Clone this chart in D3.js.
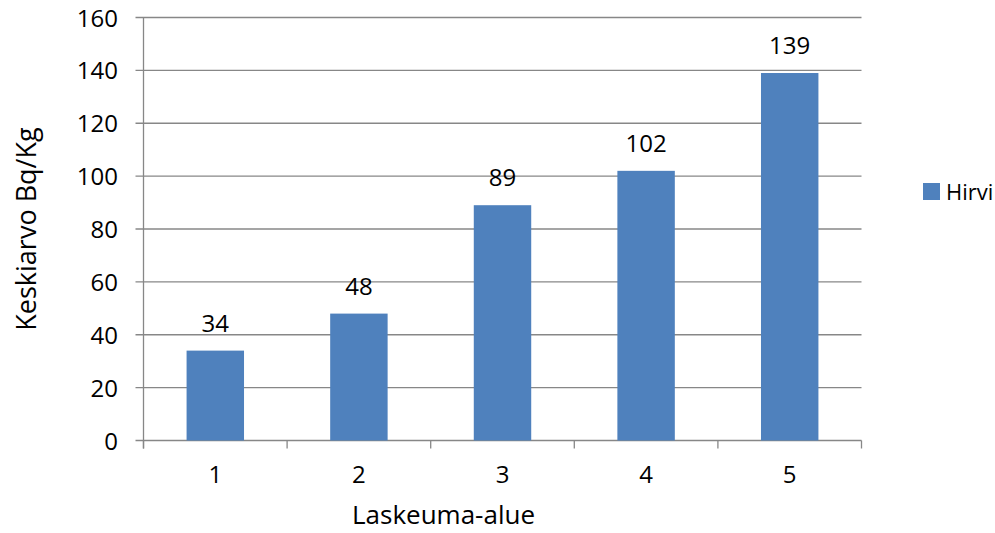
<!DOCTYPE html>
<html><head><meta charset="utf-8">
<script src="https://cdn.jsdelivr.net/npm/d3@7"></script>
<style>body{margin:0;background:#fff}svg text{font-family:"Open Sans",sans-serif;fill:#000}</style>
</head><body>
<svg id="c" width="995" height="533"></svg>
<script>
const categories = ["1","2","3","4","5"];
const values = [34,48,89,102,139];
const yTicks = [0,20,40,60,80,100,120,140,160];
const seriesName = "Hirvi";
const xTitle = "Laskeuma-alue";
const yTitle = "Keskiarvo Bq/Kg";

const svg = d3.select("#c");
const L=143.5, R=861.5, T=17.5, B=440.5;
const x = d3.scaleBand().domain(categories).range([L,R]).paddingInner(0.6).paddingOuter(0.3);
const y = d3.scaleLinear().domain([0,160]).range([B,T]);
const grid="#878787";

// gridlines
svg.append("g").selectAll("line").data(yTicks).join("line")
  .attr("x1",L-8).attr("x2",R).attr("y1",d=>y(d)).attr("y2",d=>y(d))
  .attr("stroke",grid).attr("stroke-width",1.3);
// y axis line
svg.append("line").attr("x1",L).attr("x2",L).attr("y1",T).attr("y2",B+8).attr("stroke",grid).attr("stroke-width",1.3);
// x tick marks at band boundaries
const bounds = d3.range(categories.length+1).map(i=>L+i*(R-L)/categories.length);
svg.append("g").selectAll("line").data(bounds).join("line")
  .attr("x1",d=>d).attr("x2",d=>d).attr("y1",B).attr("y2",B+8).attr("stroke",grid).attr("stroke-width",1.3);

// y tick labels
svg.append("g").selectAll("text").data(yTicks).join("text")
  .attr("x",118).attr("y",d=>y(d)+9).attr("text-anchor","end")
  .attr("font-size",24).text(d=>d);

// bars
svg.append("g").selectAll("rect").data(values).join("rect")
  .attr("x",(d,i)=>x(categories[i])).attr("width",x.bandwidth())
  .attr("y",d=>y(d)).attr("height",d=>B-y(d)).attr("fill","#4F81BD");

// data labels
svg.append("g").selectAll("text").data(values).join("text")
  .attr("x",(d,i)=>x(categories[i])+x.bandwidth()/2).attr("y",d=>y(d)-19)
  .attr("text-anchor","middle").attr("font-size",24).text(d=>d);

// category labels
svg.append("g").selectAll("text").data(categories).join("text")
  .attr("x",d=>x(d)+x.bandwidth()/2).attr("y",483)
  .attr("text-anchor","middle").attr("font-size",24).text(d=>d);

// axis titles
svg.append("text").attr("x",(L+R)/2-59).attr("y",524).attr("text-anchor","middle").attr("font-size",26).text(xTitle);
svg.append("text").attr("transform",`translate(36,${(T+B)/2}) rotate(-90)`).attr("text-anchor","middle").attr("font-size",27).text(yTitle);

// legend
svg.append("rect").attr("x",923).attr("y",183).attr("width",17).attr("height",17).attr("fill","#4F81BD");
svg.append("text").attr("x",946).attr("y",200).attr("font-size",22).text(seriesName);
</script>
</body></html>
